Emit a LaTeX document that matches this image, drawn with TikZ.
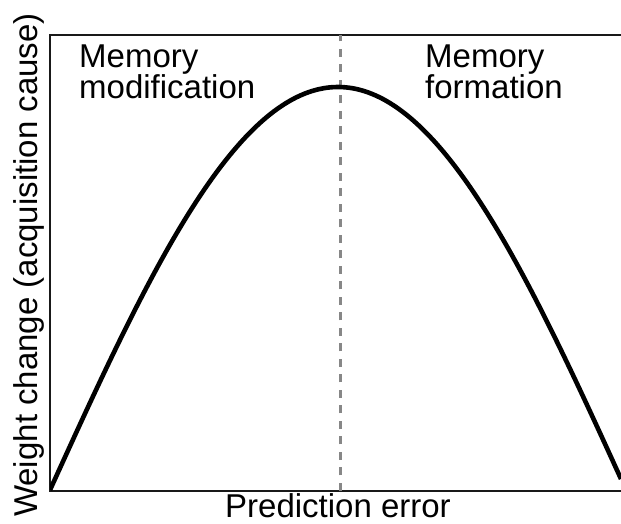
\documentclass[tikz,border=0pt]{standalone}
\usepackage{fontspec}
\setmainfont{Liberation Sans}
\begin{document}
\begin{tikzpicture}[x=1pt,y=1pt,
  lbl/.style={inner sep=0pt, font=\fontsize{33}{30}\selectfont, align=left},
  frame/.style={line width=1.6pt, draw=black!90},
  curve/.style={line width=4.6pt, black},
  divider/.style={line width=3pt, draw=black!47, dash pattern=on 8pt off 7.5pt}]
\useasboundingbox (0,0) rectangle (621,524);
% axes frame (top, left, bottom)
\draw[frame] (621,489) -- (50,489) -- (50,33) -- (621,33);
% dashed divider
\draw[divider] (340,33) -- (340,489);
% curve
\begin{scope}
\clip (50,0) rectangle (621,489);
\draw[curve] plot[domain=50:621, samples=200, smooth] (\x, {34+403*sin((\x-50)/576*180)});
\end{scope}
% labels
\node[lbl, anchor=base west] (mod) at (79,425) {Memory\\modification};
\node[lbl, anchor=base west] (form) at (425,425) {Memory\\formation};
\node[lbl, anchor=base] (xlab) at (338,6) {Prediction error};
\node[lbl, anchor=base, rotate=90] (ylab) at (37,259) {Weight change (acquisition cause)};
\end{tikzpicture}
\end{document}
